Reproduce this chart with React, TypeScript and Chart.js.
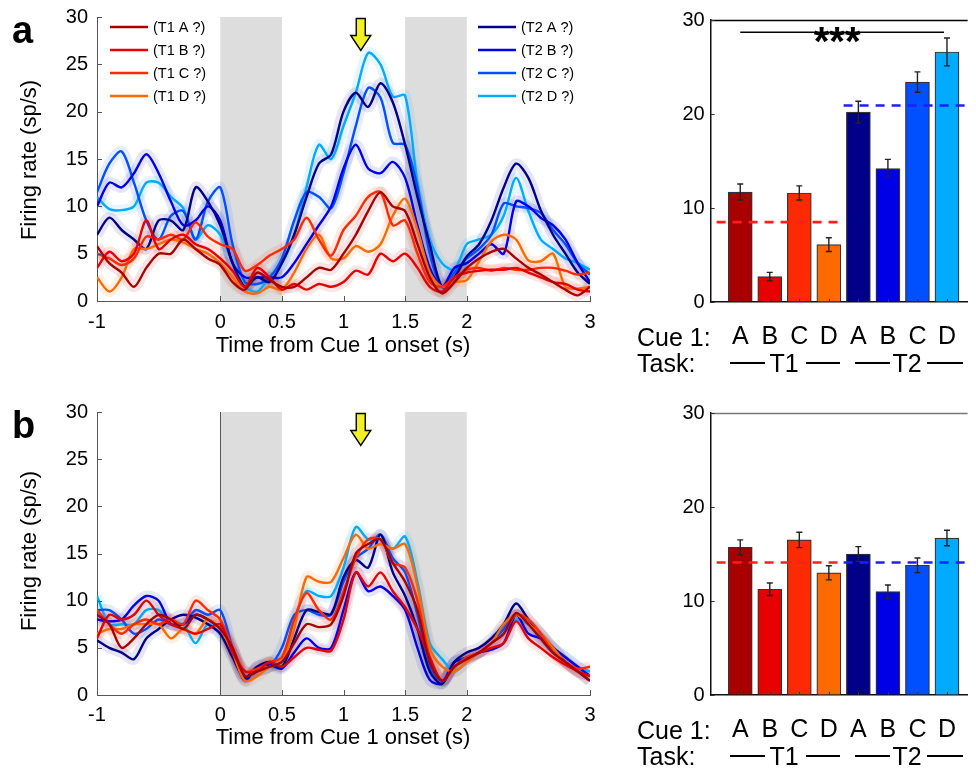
import React, { useEffect, useRef } from 'react';
import { Chart, registerables } from 'chart.js';
Chart.register(...registerables);

const FONT = "'Liberation Sans', Arial, Helvetica, sans-serif";

// ---------- shared ----------
const timePoints = [-1.0, -0.9, -0.8, -0.7, -0.6, -0.5, -0.4, -0.3, -0.2, -0.1, 0.0, 0.1, 0.2, 0.3, 0.4, 0.5, 0.6, 0.7, 0.8, 0.9, 1.0, 1.1, 1.2, 1.3, 1.4, 1.5, 1.6, 1.7, 1.8, 1.9, 2.0, 2.1, 2.2, 2.3, 2.4, 2.5, 2.6, 2.7, 2.8, 2.9, 3.0];
const seriesLabels = ['(T1 A ?)', '(T1 B ?)', '(T1 C ?)', '(T1 D ?)', '(T2 A ?)', '(T2 B ?)', '(T2 C ?)', '(T2 D ?)'];
const seriesColors = ['#a80000', '#e60000', '#ff2a00', '#ff6a00', '#000088', '#0000e6', '#0050ff', '#00aaff'];
const lineXTicks = [-1, 0, 0.5, 1, 1.5, 2, 3];
const lineYTicks = [0, 5, 10, 15, 20, 25, 30];
const shadedWindows = [[0, 0.5], [1.5, 2]];
const arrowTime = 1.14;

// ---------- panel a (firing rate, sp/s) ----------
const aT1A = [5.8, 4.0, 3.0, 1.5, 3.5, 5.0, 5.0, 6.5, 5.5, 4.5, 3.8, 2.0, 1.2, 3.0, 2.2, 1.5, 1.5, 2.5, 3.5, 3.3, 5.0, 7.0, 9.5, 11.5, 10.0, 9.5, 6.0, 2.5, 0.8, 2.0, 3.5, 4.5, 5.2, 5.5, 4.5, 3.5, 2.8, 2.0, 1.2, 0.6, 1.5];
const aT1B = [3.5, 5.2, 4.2, 5.0, 8.5, 5.5, 6.5, 7.0, 6.0, 5.5, 4.5, 3.2, 1.5, 3.5, 2.5, 1.2, 1.8, 1.2, 1.8, 1.5, 2.0, 3.2, 2.8, 5.0, 4.2, 5.0, 3.5, 1.5, 1.0, 2.5, 3.0, 3.2, 3.3, 3.3, 3.5, 3.0, 2.5, 2.0, 1.8, 1.2, 1.0];
const aT1C = [5.0, 4.5, 3.8, 4.5, 6.8, 6.5, 7.0, 6.5, 8.3, 6.8, 6.0, 5.5, 3.2, 3.8, 4.8, 5.5, 6.5, 8.8, 6.5, 4.8, 7.5, 9.0, 11.0, 11.5, 8.0, 8.5, 5.0, 2.0, 1.5, 2.5, 3.3, 3.5, 3.2, 3.5, 3.3, 3.3, 3.5, 3.5, 3.2, 2.8, 3.0];
const aT1D = [2.5, 1.0, 2.5, 5.5, 5.5, 6.0, 6.5, 6.2, 5.5, 5.0, 4.0, 2.5, 1.0, 0.8, 1.5, 1.2, 3.0, 5.5, 7.0, 4.5, 4.5, 5.8, 5.2, 6.0, 9.0, 10.8, 7.5, 3.0, 1.5, 2.0, 2.2, 4.2, 6.3, 7.0, 6.5, 4.3, 4.2, 5.0, 1.5, 1.3, 1.5];
const aT2A = [7.0, 8.8, 7.5, 6.5, 5.5, 8.5, 8.5, 7.5, 12.0, 10.5, 8.0, 4.0, 1.5, 2.5, 2.0, 4.0, 7.0, 11.0, 14.5, 15.5, 20.0, 22.0, 20.5, 23.0, 21.0, 16.5, 11.0, 6.0, 1.5, 2.5, 4.7, 6.0, 8.5, 12.0, 14.5, 13.0, 9.6, 7.0, 5.0, 3.0, 1.8];
const aT2B = [10.0, 12.5, 12.0, 13.5, 15.5, 13.5, 10.5, 8.0, 8.5, 10.0, 8.5, 4.0, 2.5, 2.5, 2.5, 2.5, 4.0, 6.0, 8.0, 10.0, 14.0, 16.5, 14.0, 13.5, 14.7, 13.0, 8.0, 3.5, 1.5, 3.5, 4.0, 5.0, 6.0, 5.0, 10.5, 10.0, 8.8, 8.0, 6.5, 4.0, 2.0];
const aT2C = [11.5, 14.5, 15.8, 12.5, 8.5, 6.5, 9.0, 9.5, 6.5, 10.5, 12.0, 6.0, 2.0, 1.8, 2.5, 4.5, 8.5, 11.5, 11.0, 9.8, 13.5, 18.5, 22.5, 21.5, 16.7, 16.5, 12.0, 5.0, 1.5, 3.0, 4.5, 5.5, 7.0, 10.3, 10.0, 9.8, 9.3, 7.5, 6.0, 4.0, 2.8];
const aT2D = [11.0, 9.7, 9.6, 10.0, 12.5, 12.5, 11.0, 9.8, 6.5, 8.0, 7.0, 4.0, 1.5, 1.0, 2.5, 4.0, 7.0, 12.0, 16.5, 15.0, 18.5, 22.0, 26.2, 25.0, 21.6, 21.7, 12.5, 6.5, 4.0, 3.3, 6.0, 6.5, 7.0, 9.0, 13.0, 9.5, 6.5, 5.5, 4.5, 4.0, 3.3];

// ---------- panel b (firing rate, sp/s) ----------
const bT1A = [8.5, 7.5, 5.0, 6.0, 7.5, 8.5, 8.0, 7.0, 8.5, 8.0, 7.0, 5.0, 2.0, 2.5, 3.0, 3.5, 5.5, 7.5, 7.2, 7.5, 10.5, 15.0, 16.0, 16.5, 14.0, 12.0, 9.0, 3.5, 1.5, 3.0, 3.8, 4.5, 5.5, 6.5, 8.7, 7.5, 6.0, 4.5, 3.5, 2.5, 1.5];
const bT1B = [6.0, 8.5, 8.0, 8.5, 10.0, 8.5, 7.5, 7.0, 6.5, 7.0, 7.5, 4.5, 2.5, 2.5, 3.5, 3.0, 4.0, 5.0, 4.8, 4.7, 8.0, 13.0, 11.5, 13.0, 11.0, 9.3, 7.0, 4.0, 1.5, 3.0, 3.8, 4.5, 5.0, 5.5, 7.8, 6.0, 5.0, 4.0, 3.2, 2.5, 2.0];
const bT1C = [9.0, 7.5, 6.5, 7.5, 8.0, 7.5, 8.0, 7.5, 10.0, 9.0, 8.0, 5.0, 2.5, 2.8, 3.5, 4.0, 8.0, 10.8, 9.0, 8.0, 11.0, 14.5, 16.5, 16.5, 14.0, 13.5, 10.0, 4.0, 1.5, 3.0, 4.0, 4.5, 5.5, 6.5, 8.5, 8.0, 6.5, 4.5, 3.5, 2.8, 3.0];
const bT1D = [6.5, 7.0, 7.0, 7.5, 7.5, 7.5, 6.0, 7.0, 6.5, 8.0, 7.0, 4.5, 1.5, 2.0, 3.0, 3.5, 7.0, 12.5, 12.0, 12.0, 14.5, 17.0, 15.5, 16.0, 15.5, 16.0, 11.5, 5.0, 3.0, 2.5, 3.5, 4.5, 5.5, 7.5, 8.5, 7.5, 6.5, 5.0, 3.5, 2.5, 2.0];
const bT2A = [5.8, 5.0, 4.5, 3.8, 6.0, 7.0, 8.0, 8.5, 8.2, 7.5, 6.5, 4.0, 1.8, 3.0, 3.5, 3.0, 6.0, 9.0, 8.8, 8.6, 12.5, 14.3, 13.5, 17.0, 13.0, 10.5, 7.0, 2.5, 1.2, 3.5, 4.5, 5.0, 6.0, 7.5, 9.7, 8.0, 6.5, 5.0, 3.5, 2.5, 1.5];
const bT2B = [8.0, 7.8, 8.0, 9.5, 10.5, 10.0, 7.5, 7.5, 8.5, 8.0, 7.0, 4.5, 1.5, 3.0, 3.2, 2.8, 4.5, 6.0, 5.0, 5.0, 9.0, 13.0, 11.0, 11.5, 10.5, 9.0, 5.0, 1.6, 1.2, 3.5, 3.8, 4.5, 4.8, 5.5, 8.5, 6.5, 6.0, 5.0, 4.0, 3.0, 2.0];
const bT2C = [9.0, 9.0, 8.0, 6.5, 7.0, 8.0, 7.5, 7.5, 9.0, 8.5, 9.0, 5.0, 2.0, 2.5, 3.0, 5.0, 8.5, 9.0, 8.5, 8.5, 12.0, 14.5, 15.5, 17.0, 14.5, 13.0, 8.5, 3.0, 1.5, 3.5, 4.0, 4.5, 5.5, 7.0, 8.5, 7.5, 6.0, 4.5, 3.5, 2.5, 2.0];
const bT2D = [10.5, 7.5, 7.5, 7.5, 9.0, 9.0, 7.5, 7.5, 5.5, 7.5, 6.5, 4.5, 2.0, 2.5, 3.0, 3.5, 8.0, 11.0, 10.5, 10.5, 13.5, 17.8, 16.5, 16.5, 15.5, 16.8, 12.0, 5.5, 3.8, 2.5, 3.5, 4.5, 5.5, 7.0, 8.0, 7.5, 6.5, 5.0, 4.0, 3.0, 2.5];

// ---------- bar panels ----------
const barPositions = [1, 2, 3, 4, 5, 6, 7, 8];
const cueLabels = ['A', 'B', 'C', 'D', 'A', 'B', 'C', 'D'];
const barYTicks = [0, 10, 20, 30];
const barMeansA = [11.7, 2.7, 11.6, 6.1, 20.2, 14.2, 23.4, 26.6];
const barErrA = [0.85, 0.45, 0.75, 0.73, 1.15, 0.97, 1.08, 1.48];
const barMeansB = [15.7, 11.25, 16.5, 13.0, 15.0, 11.0, 13.8, 16.7];
const barErrB = [0.8, 0.67, 0.82, 0.75, 0.78, 0.7, 0.78, 0.83];
const taskMeanA = [8.5, 20.9];
const taskMeanB = [14.1, 14.1];
const taskSpan = [[0.2, 4.5], [4.5, 8.7]];
const taskMeanColors = ['#ff1e1e', '#1e1eff'];
const sigFrom = 1;
const sigTo = 7.9;
const sigLevel = 28.7;
const sigLabel = '***';

const panelASeries = [aT1A, aT1B, aT1C, aT1D, aT2A, aT2B, aT2C, aT2D];
const panelBSeries = [bT1A, bT1B, bT1C, bT1D, bT2A, bT2B, bT2C, bT2D];

function rgba(hex: string, a: number) {
  const n = parseInt(hex.slice(1), 16);
  return `rgba(${(n >> 16) & 255},${(n >> 8) & 255},${n & 255},${a})`;
}

function LinePanel({ top, series, legend, zeroLine, padTop, tickPad }: any) {
  const ref = useRef<HTMLCanvasElement>(null);
  useEffect(() => {
    const datasets: any[] = [];
    series.forEach((vals: number[], i: number) => {
      datasets.push({
        data: timePoints.map((t, k) => ({ x: t, y: vals[k] })),
        borderColor: rgba(seriesColors[i], 0.1),
        borderWidth: 11,
        pointRadius: 0,
        tension: 0.3,
        order: 2,
      });
    });
    series.forEach((vals: number[], i: number) => {
      datasets.push({
        label: seriesLabels[i],
        data: timePoints.map((t, k) => ({ x: t, y: vals[k] })),
        borderColor: seriesColors[i],
        borderWidth: 2.4,
        pointRadius: 0,
        tension: 0.3,
        order: 1,
      });
    });
    const decor = {
      id: 'decor',
      beforeDatasetsDraw(chart: any) {
        const { ctx, chartArea: ca, scales } = chart;
        ctx.save();
        ctx.fillStyle = '#dddddd';
        shadedWindows.forEach(([a, b]) => {
          const x1 = scales.x.getPixelForValue(a);
          const x2 = scales.x.getPixelForValue(b);
          ctx.fillRect(x1, ca.top, x2 - x1, ca.bottom - ca.top);
        });
        if (zeroLine) {
          const x0 = Math.round(scales.x.getPixelForValue(0)) + 0.5;
          ctx.strokeStyle = '#555';
          ctx.lineWidth = 1;
          ctx.beginPath();
          ctx.moveTo(x0, ca.top);
          ctx.lineTo(x0, ca.bottom);
          ctx.stroke();
        }
        ctx.restore();
      },
      afterDatasetsDraw(chart: any) {
        const { ctx, chartArea: ca, scales } = chart;
        ctx.save();
        // arrow
        const x = scales.x.getPixelForValue(arrowTime);
        const t0 = ca.top + 1.5;
        ctx.beginPath();
        ctx.moveTo(x - 4.5, t0);
        ctx.lineTo(x + 4.5, t0);
        ctx.lineTo(x + 4.5, t0 + 17);
        ctx.lineTo(x + 10, t0 + 17);
        ctx.lineTo(x, t0 + 32);
        ctx.lineTo(x - 10, t0 + 17);
        ctx.lineTo(x - 4.5, t0 + 17);
        ctx.closePath();
        ctx.fillStyle = '#f0f028';
        ctx.fill();
        ctx.strokeStyle = '#000';
        ctx.lineWidth = 1.4;
        ctx.lineJoin = 'miter';
        ctx.stroke();
        // legend
        if (legend) {
          ctx.font = `14.5px ${FONT}`;
          ctx.textBaseline = 'middle';
          ctx.fillStyle = '#000';
          const cols = [ca.left + 13, ca.right - 112];
          seriesLabels.forEach((lab, i) => {
            const col = i < 4 ? 0 : 1;
            const row = i % 4;
            const y = ca.top + 10 + row * 23;
            const lx = cols[col];
            ctx.strokeStyle = seriesColors[i];
            ctx.lineWidth = 2.6;
            ctx.beginPath();
            ctx.moveTo(lx, y);
            ctx.lineTo(lx + 38, y);
            ctx.stroke();
            ctx.fillText(lab, lx + 43, y + 1);
          });
        }
        ctx.restore();
      },
      afterDraw(chart: any) {
        const { ctx, chartArea: ca, scales } = chart;
        ctx.save();
        ctx.strokeStyle = '#555';
        ctx.lineWidth = 1;
        scales.y.ticks.forEach((t: any) => {
          const y = Math.round(scales.y.getPixelForValue(t.value)) + 0.5;
          ctx.beginPath();
          ctx.moveTo(ca.left, y);
          ctx.lineTo(ca.left + 5, y);
          ctx.stroke();
        });
        scales.x.ticks.forEach((t: any) => {
          const x = Math.round(scales.x.getPixelForValue(t.value)) + 0.5;
          ctx.beginPath();
          ctx.moveTo(x, ca.bottom);
          ctx.lineTo(x, ca.bottom - 5);
          ctx.stroke();
        });
        ctx.restore();
      },
    };
    const chart = new Chart(ref.current as HTMLCanvasElement, {
      type: 'line',
      data: { datasets },
      options: {
        animation: false,
        responsive: false,
        maintainAspectRatio: false,
        events: [],
        layout: { autoPadding: false, padding: { top: padTop, right: 30, left: 0, bottom: 0 } },
        plugins: { legend: { display: false }, tooltip: { enabled: false } },
        scales: {
          x: {
            type: 'linear',
            min: -1,
            max: 3,
            afterBuildTicks: (s: any) => { s.ticks = lineXTicks.map((v) => ({ value: v })); },
            afterFit: (s: any) => { s.height = 340 - 301; },
            grid: { display: true, drawOnChartArea: false, drawTicks: false },
            border: { color: '#555', width: 1 },
            ticks: { font: { family: FONT, size: 20 }, color: '#000', padding: tickPad, maxRotation: 0, autoSkip: false, callback: (v: any) => String(v) },
          },
          y: {
            min: 0,
            max: 30,
            afterBuildTicks: (s: any) => { s.ticks = lineYTicks.map((v) => ({ value: v })); },
            afterFit: (s: any) => { s.width = 97; },
            grid: { display: true, drawOnChartArea: false, drawTicks: false },
            border: { color: '#555', width: 1 },
            ticks: { font: { family: FONT, size: 20, lineHeight: 0.6 }, color: '#000', padding: 9, callback: (v: any) => String(v) },
          },
        },
      } as any,
      plugins: [decor],
    });
    return () => chart.destroy();
  }, []);
  return <canvas ref={ref} width={620} height={340} style={{ position: 'absolute', left: 0, top, width: 620, height: 340 }} />;
}

function BarPanel({ top, means, errs, taskMeans, sig, borderColor }: any) {
  const ref = useRef<HTMLCanvasElement>(null);
  useEffect(() => {
    const deco = {
      id: 'barDeco',
      afterDatasetsDraw(chart: any) {
        const { ctx, scales } = chart;
        const xs = scales.x, ys = scales.y;
        ctx.save();
        // error bars
        ctx.strokeStyle = '#222';
        ctx.lineWidth = 1.4;
        barPositions.forEach((p, i) => {
          const x = xs.getPixelForValue(p);
          const y1 = ys.getPixelForValue(means[i] - errs[i]);
          const y2 = ys.getPixelForValue(means[i] + errs[i]);
          ctx.beginPath();
          ctx.moveTo(x, y1); ctx.lineTo(x, y2);
          ctx.moveTo(x - 3, y1); ctx.lineTo(x + 3, y1);
          ctx.moveTo(x - 3, y2); ctx.lineTo(x + 3, y2);
          ctx.stroke();
        });
        // task means
        ctx.lineWidth = 2.6;
        ctx.setLineDash([9, 7]);
        taskSpan.forEach(([a, b], k) => {
          const y = ys.getPixelForValue(taskMeans[k]);
          ctx.strokeStyle = taskMeanColors[k];
          ctx.beginPath();
          ctx.moveTo(xs.getPixelForValue(a), y);
          ctx.lineTo(xs.getPixelForValue(b), y);
          ctx.stroke();
        });
        ctx.setLineDash([]);
        // significance
        if (sig) {
          const y = ys.getPixelForValue(sigLevel);
          ctx.strokeStyle = '#000';
          ctx.lineWidth = 1.5;
          ctx.beginPath();
          ctx.moveTo(xs.getPixelForValue(sigFrom), y);
          ctx.lineTo(xs.getPixelForValue(sigTo), y);
          ctx.stroke();
          ctx.fillStyle = '#000';
          ctx.font = `bold 40px ${FONT}`;
          ctx.textAlign = 'center';
          ctx.textBaseline = 'alphabetic';
          ctx.fillText(sigLabel, xs.getPixelForValue(4.28), y + 23);
        }
        ctx.restore();
      },
      afterDraw(chart: any) {
        const { ctx, chartArea: ca, scales } = chart;
        ctx.save();
        ctx.strokeStyle = borderColor;
        ctx.lineWidth = 1.5;
        ctx.beginPath();
        ctx.moveTo(ca.left, ca.top + 0.5);
        ctx.lineTo(ca.right, ca.top + 0.5);
        ctx.stroke();
        ctx.strokeStyle = '#333';
        ctx.lineWidth = 1;
        scales.y.ticks.forEach((t: any) => {
          const y = Math.round(scales.y.getPixelForValue(t.value)) + 0.5;
          ctx.beginPath(); ctx.moveTo(ca.left, y); ctx.lineTo(ca.left + 4, y); ctx.stroke();
        });
        scales.x.ticks.forEach((t: any) => {
          const x = Math.round(scales.x.getPixelForValue(t.value)) + 0.5;
          ctx.beginPath(); ctx.moveTo(x, ca.bottom); ctx.lineTo(x, ca.bottom - 3); ctx.stroke();
        });
        ctx.restore();
      },
    };
    const chart = new Chart(ref.current as HTMLCanvasElement, {
      type: 'bar',
      data: {
        datasets: [{
          data: barPositions.map((p, i) => ({ x: p, y: means[i] })),
          backgroundColor: seriesColors,
          borderColor: '#333',
          borderWidth: 1.2,
          barThickness: 24,
        }],
      },
      options: {
        animation: false,
        responsive: false,
        maintainAspectRatio: false,
        events: [],
        layout: { autoPadding: false, padding: { top: 20, right: 0, left: 0, bottom: 0 } },
        plugins: { legend: { display: false }, tooltip: { enabled: false } },
        scales: {
          x: {
            type: 'linear',
            min: 0,
            max: 8.7,
            offset: false,
            afterBuildTicks: (s: any) => { s.ticks = barPositions.map((v) => ({ value: v })); },
            afterFit: (s: any) => { s.height = 350 - 302; },
            grid: { display: true, drawOnChartArea: false, drawTicks: false, offset: false },
            border: { color: '#111', width: 1.5 },
            ticks: { font: { family: FONT, size: 25 }, color: '#000', padding: 20, maxRotation: 0, autoSkip: false, callback: (v: any) => cueLabels[Math.round(v) - 1] },
          },
          y: {
            min: 0,
            max: 30,
            afterBuildTicks: (s: any) => { s.ticks = barYTicks.map((v) => ({ value: v })); },
            afterFit: (s: any) => { s.width = 90.7; },
            grid: { display: true, drawOnChartArea: false, drawTicks: false },
            border: { color: '#111', width: 1.5 },
            ticks: { font: { family: FONT, size: 20, lineHeight: 0.6 }, color: '#000', padding: 6, callback: (v: any) => String(v) },
          },
        },
      } as any,
      plugins: [deco],
    });
    return () => chart.destroy();
  }, []);
  return <canvas ref={ref} width={356} height={350} style={{ position: 'absolute', left: 620, top, width: 356, height: 350 }} />;
}

function Txt({ x, y, size, children, bold, align, w }: any) {
  const width = w || 300;
  const left = align === 'center' ? x - width / 2 : x;
  return (
    <div style={{ position: 'absolute', left, top: y - 16, width, height: 32, lineHeight: '32px', fontSize: size, fontWeight: bold ? 'bold' : 'normal', textAlign: align || 'left', whiteSpace: 'nowrap' }}>{children}</div>
  );
}

function HLine({ x1, x2, y }: any) {
  return <div style={{ position: 'absolute', left: x1, top: y - 1, width: x2 - x1, height: 2, background: '#000' }} />;
}

function TaskRow({ y }: any) {
  return (
    <>
      <Txt x={637} y={y - 26} size={25}>Cue 1:</Txt>
      <Txt x={637} y={y} size={25}>Task:</Txt>
      <HLine x1={730} x2={765} y={y} />
      <Txt x={784} y={y} size={25} align="center" w={60}>T1</Txt>
      <HLine x1={806} x2={840} y={y} />
      <HLine x1={855} x2={890} y={y} />
      <Txt x={907} y={y} size={25} align="center" w={60}>T2</Txt>
      <HLine x1={927} x2={963} y={y} />
    </>
  );
}

function YTitle({ cx, cy }: any) {
  return (
    <div style={{ position: 'absolute', left: cx - 120, top: cy - 14, width: 240, height: 28, lineHeight: '28px', fontSize: 22, textAlign: 'center', transform: 'rotate(-90deg)', whiteSpace: 'nowrap' }}>Firing rate (sp/s)</div>
  );
}

export default function App() {
  return (
    <div style={{ position: 'fixed', left: 0, top: 0, width: 976, height: 769, background: '#fff', overflow: 'hidden', fontFamily: FONT, color: '#000' }}>
      <LinePanel top={0} series={panelASeries} legend zeroLine={false} padTop={17} tickPad={9} />
      <LinePanel top={394} series={panelBSeries} legend={false} zeroLine padTop={18} tickPad={8} />
      <BarPanel top={0} means={barMeansA} errs={barErrA} taskMeans={taskMeanA} sig borderColor="#000" />
      <BarPanel top={393} means={barMeansB} errs={barErrB} taskMeans={taskMeanB} sig={false} borderColor="#777" />
      <Txt x={12} y={30} size={38} bold>a</Txt>
      <Txt x={12} y={425} size={38} bold>b</Txt>
      <YTitle cx={29} cy={160} />
      <YTitle cx={29} cy={551} />
      <Txt x={343} y={345} size={22} align="center" w={400}>Time from Cue 1 onset (s)</Txt>
      <Txt x={343} y={737} size={22} align="center" w={400}>Time from Cue 1 onset (s)</Txt>
      <TaskRow y={363} />
      <TaskRow y={756} />
    </div>
  );
}
